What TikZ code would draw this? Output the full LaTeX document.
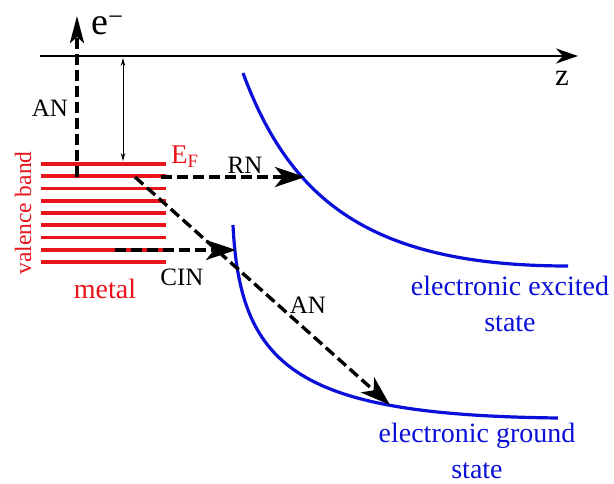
\documentclass[tikz,border=0pt]{standalone}
\usepackage{fontspec}
\setmainfont{Liberation Serif}
\usetikzlibrary{arrows.meta, positioning}
\definecolor{bandred}{HTML}{E8141B}
\definecolor{potblue}{HTML}{0A10D8}
\tikzset{
  x=1pt, y=-1pt,
  level/.style={bandred, line width=3.8pt},
  pot/.style={potblue, line width=3.2pt},
  trans/.style={-{Stealth[length=30pt,width=20pt,inset=8pt]}, line width=3.4pt, dash pattern=on 11pt off 5pt},
  lbl/.style={font=\fontsize{25}{28}\selectfont, inner sep=0pt},
  redlbl/.style={lbl, text=bandred},
  statelbl/.style={font=\fontsize{28}{36}\selectfont, text=potblue, align=center, inner sep=0pt},
}

\begin{document}
\begin{tikzpicture}
  \useasboundingbox (0,0) rectangle (614,484);
  % vacuum level, z axis
  \coordinate (axl) at (40,56);
  \coordinate (axr) at (578,56);
  \draw[line width=2.4pt, -{Stealth[length=22pt,width=15pt,inset=7pt]}] (axl) -- (axr);
  \node[lbl, font=\fontsize{31}{31}\selectfont] (zlbl) at (562,78) {z};
  % valence band of the metal
  \foreach \i in {0,...,8}
    \draw[level] (41,164+12.25*\i) -- (166,164+12.25*\i);
  \node[redlbl, font=\fontsize{23.5}{26}\selectfont, rotate=90] (vband) at (23,213) {valence band};
  \node[redlbl, font=\fontsize{28}{30}\selectfont] (metal) at (105,289) {metal};
  \node[redlbl, font=\fontsize{27}{28}\selectfont] (ef) at (185,157) {E\textsubscript{F}};
  % work function
  \coordinate (vac) at (123,58);
  \coordinate (fermi) at (123,161);
  \draw[line width=1pt, {Stealth[length=8pt,width=4.5pt]}-{Stealth[length=8pt,width=4.5pt]}] (vac) -- (fermi);
  % potential curves
  \draw[pot] (243,73) .. controls (290,200) and (370,266) .. (568,266);
  \draw[pot] (233,225) .. controls (240,370) and (300,415) .. (558,418);
  \node[statelbl] (exc) at (510,304) {electronic excited\\state};
  \node[statelbl] (gnd) at (477,451) {electronic ground\\state};
  % neutralisation channels
  \coordinate (anstart) at (77,177);
  \coordinate (etop) at (77,16);
  \draw[trans, -{Stealth[length=27pt,width=14pt,inset=6pt]}] (anstart) -- (etop);
  \node[anchor=base west, inner sep=0pt, font=\fontsize{38}{38}\selectfont] (elec) at (91,35) {e\textsuperscript{−}};
  \node[lbl] (anv) at (50,108) {AN};
  \coordinate (rnstart) at (161,177);
  \coordinate (rnend) at (305,177);
  \draw[trans] (rnstart) -- (rnend);
  \node[lbl] (rn) at (245,165) {RN};
  \coordinate (cinstart) at (115,250);
  \coordinate (cinend) at (236,250);
  \draw[trans] (cinstart) -- (cinend);
  \node[lbl] (cin) at (182,277) {CIN};
  \coordinate (dstart) at (135,177);
  \coordinate (dend) at (390,405);
  \draw[trans] (dstart) -- (dend);
  \node[lbl] (and) at (308,305) {AN};
\end{tikzpicture}
\end{document}
